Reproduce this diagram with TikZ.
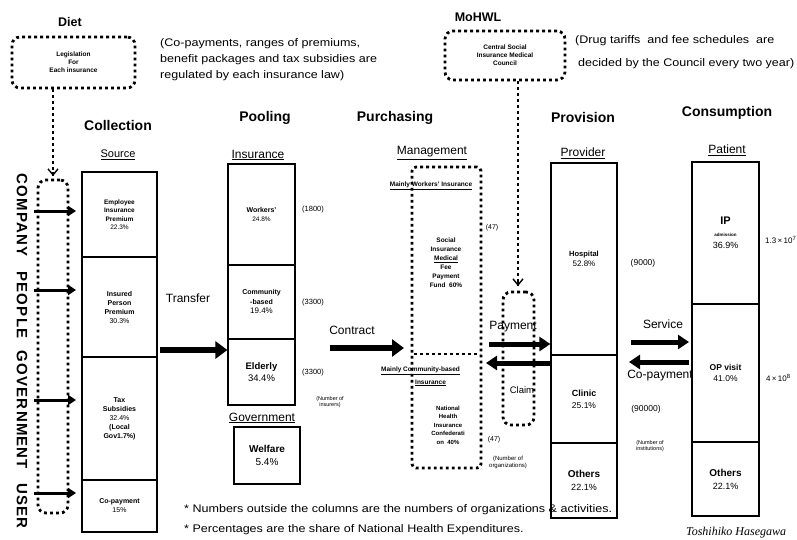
\documentclass[tikz,border=0pt]{standalone}
\usepackage{fontspec}
\setmainfont{Liberation Sans}
\newfontfamily\sigfont{Liberation Serif}
\usetikzlibrary{arrows.meta}
\newcommand\fsz[2]{\fontsize{#1}{#2}\selectfont}
\begin{document}
\begin{tikzpicture}[x=1pt,y=-1pt,
  every node/.style={inner sep=0pt},
  ttl/.style={font=\bfseries\fsz{14}{16}},
  subh/.style={font=\fsz{12}{14}},
  notel/.style={font=\fsz{11}{13}, anchor=base west, xscale=1.14},
  side/.style={font=\fsz{7.5}{9}, align=center},
  tiny/.style={font=\fsz{5.5}{6.5}, align=center},
  dotl/.style={line width=2.8pt, dash pattern=on 2.8pt off 3.2pt},
  dotbox/.style={draw, dotl, rounded corners=8pt, align=center},
  colbox/.style={draw, line width=1.2pt, align=center},
  bigarr/.style={line width=6.5pt, -{Triangle[length=12pt,width=17pt]}},
  midarr/.style={line width=5pt, -{Triangle[length=11pt,width=14pt]}},
  smallarr/.style={line width=3pt, -{Triangle[length=8pt,width=10pt]}},
  vert/.style={font=\bfseries\fsz{15}{17}\addfontfeature{LetterSpace=8}, rotate=-90},
  lbl/.style={font=\fsz{12}{14}}
]
\clip (0,0) rectangle (797,540);
\fill[white] (0,0) rectangle (797,540);

% ---- Diet
\node[ttl, font=\bfseries\fsz{12.5}{14}] (diet) at (70,22) {Diet};
\node[dotbox, minimum width=123pt, minimum height=51pt, font=\bfseries\fsz{6.5}{8}] (dietbox) at (73.5,62.5) {Legislation\\For\\Each insurance};
\coordinate (diettip) at (53,176);
\draw[dotl] (dietbox.south -| diettip) -- (diettip);
\draw[line width=1.4pt, -{Straight Barb[length=6pt,width=10pt]}] (diettip) ++(0,-4) -- (diettip);

% ---- notes at top
\node[notel] (rn1) at (160,47) {(Co-payments, ranges of premiums,};
\node[notel] (rn2) at (160,63) {benefit packages and tax subsidies are};
\node[notel] (rn3) at (160,79) {regulated by each insurance law)};
\node[notel] (dn1) at (575,44) {(Drug tariffs\ \ and fee schedules\ \ are};
\node[notel] (dn2) at (578,67) {decided by the Council every two year)};

% ---- MoHWL
\node[ttl, font=\bfseries\fsz{12.5}{14}] (mohwl) at (478,17) {MoHWL};
\node[dotbox, minimum width=120pt, minimum height=49pt, font=\bfseries\fsz{6.5}{8}] (council) at (505,55.5) {Central Social\\Insurance Medical\\Council};

% ---- column titles
\node[ttl] (tcol) at (118,125) {Collection};
\node[ttl] (tpool) at (265,118) {Pooling};
\node[ttl] (tpur) at (395,118) {Purchasing};
\node[ttl] (tprov) at (583,117) {Provision};
\node[ttl] (tcons) at (727,113) {Consumption};

\node[subh, font=\fsz{11}{13}] (hsrc) at (118,155) {\underline{Source}};
\node[subh] (hins) at (258,155) {\underline{Insurance}};
\node[subh] (hgov) at (262,418) {\underline{Government}};
\node[subh] (hman) at (432,153) {\underline{Management}};
\node[subh] (hprov) at (583,153) {\underline{Provider}};
\node[subh] (hpat) at (727,150) {\underline{Patient}};

% ---- left side
\node[vert] (vcomp) at (22,215) {COMPANY};
\node[vert] (vpeop) at (22,305) {PEOPLE};
\node[vert] (vgov) at (22,410) {GOVERNMENT};
\node[vert] (vuser) at (22,506) {USER};
\node[dotbox, minimum width=30pt, minimum height=333pt] (payers) at (53,346.5) {};

% ---- Collection column
\node[colbox, minimum width=75pt, minimum height=85pt, font=\bfseries\fsz{6.5}{8.5}] (emp) at (119.5,214.5) {Employee\\Insurance\\Premium\\\mdseries 22.3\%};
\node[colbox, minimum width=75pt, minimum height=100pt, font=\bfseries\fsz{7}{9}] (ins) at (119.5,307) {Insured\\Person\\Premium\\\mdseries 30.3\%};
\node[colbox, minimum width=75pt, minimum height=123pt, font=\bfseries\fsz{7}{9}] (tax) at (119.5,418.5) {Tax\\Subsidies\\\mdseries 32.4\%\\(Local\\Gov1.7\%)};
\node[colbox, minimum width=75pt, minimum height=52pt, font=\bfseries\fsz{7}{9}] (cop) at (119.5,506) {Co-payment\\\mdseries 15\%};

\coordinate (a1) at (34,211);
\coordinate (a2) at (34,290);
\coordinate (a3) at (34,400);
\coordinate (a4) at (34,493);
\coordinate (e1) at (76,211);
\coordinate (e2) at (76,290);
\coordinate (e3) at (76,400);
\coordinate (e4) at (76,493);
\draw[smallarr] (a1) -- (e1);
\draw[smallarr] (a2) -- (e2);
\draw[smallarr] (a3) -- (e3);
\draw[smallarr] (a4) -- (e4);

% ---- Pooling column
\node[colbox, minimum width=67pt, minimum height=101pt, font=\bfseries\fsz{7}{9}] (wrk) at (261.5,214.5) {Workers'\\\mdseries\fsz{6.5}{8}24.8\%};
\node[colbox, minimum width=67pt, minimum height=74pt, font=\bfseries\fsz{7}{9.5}] (com) at (261.5,302) {Community\\-based\\\mdseries\fsz{8}{10}19.4\%};
\node[colbox, minimum width=67pt, minimum height=66pt, font=\bfseries\fsz{9.5}{12}] (eld) at (261.5,372) {Elderly\\\mdseries 34.4\%};
\node[colbox, minimum width=66pt, minimum height=57pt, font=\bfseries\fsz{10}{13}] (wel) at (267,455.5) {Welfare\\\mdseries 5.4\%};
\node[side] (n1800) at (313,210) {(1800)};
\node[side] (n3300a) at (313,303) {(3300)};
\node[side] (n3300b) at (313,373) {(3300)};
\node[tiny] (ninsr) at (330,402) {(Number of\\insurers)};

% ---- Transfer
\node[lbl] (ltrans) at (188,298) {Transfer};
\coordinate (tr1) at (160,350);
\draw[bigarr] (tr1) -- (tr1 -| wrk.west);

% ---- Contract
\node[lbl] (lcon) at (352,330) {Contract};
\coordinate (ct1) at (330,348);
\coordinate (ct2) at (404,348);
\draw[bigarr] (ct1) -- (ct2);

% ---- Purchasing
\node[dotbox, minimum width=69pt, minimum height=301pt, rounded corners=4pt] (mgmt) at (446.5,317.5) {};
\coordinate (dvl) at (414,354);
\coordinate (dvr) at (480,354);
\draw[dotl] (dvl) -- (dvr);
\node[font=\bfseries\fsz{6.5}{8}] (mwi) at (431,186) {\underline{Mainly Workers' Insurance}};
\node[font=\bfseries\fsz{6.5}{9}, align=center] (smf) at (446,263) {Social\\Insurance\\\underline{Medical}\\Fee\\Payment\\Fund\ \ 60\%};
\node[side, font=\fsz{7}{9}] (n47a) at (492,228) {(47)};
\node[font=\bfseries\fsz{6.5}{8}, anchor=west] (mcb) at (381,371) {\underline{Mainly Community-based}};
\node[font=\bfseries\fsz{6.5}{8}, anchor=west] (mcb2) at (415,383) {\underline{Insurance}};
\node[font=\bfseries\fsz{6}{8.5}, align=center] (nhi) at (448,425) {National\\Health\\Insurance\\Confederati\\on\ \ 40\%};
\node[side, font=\fsz{7}{9}] (n47b) at (494,440) {(47)};
\node[tiny, font=\fsz{6}{7}] (norg) at (508,462) {(Number of\\organizations)};

% ---- Provider column
\node[colbox, minimum width=66pt, minimum height=192pt, font=\bfseries\fsz{7.5}{10}] (hos) at (584,259) {Hospital\\\mdseries\fsz{8}{10}52.8\%};
\node[colbox, minimum width=66pt, minimum height=88pt, font=\bfseries\fsz{9}{12}] (cli) at (584,399) {Clinic\\\mdseries\fsz{8.5}{11}25.1\%};
\node[colbox, minimum width=66pt, minimum height=75pt, font=\bfseries\fsz{10}{13}] (oth) at (584,480.5) {Others\\\mdseries\fsz{9}{12}22.1\%};
\node[side, font=\fsz{8.5}{10}] (n9000) at (643,263) {(9000)};
\node[side, font=\fsz{8.5}{10}] (n90000) at (646,409) {(90000)};
\node[tiny] (ninst) at (650,446) {(Number of\\institutions)};

% ---- Council arrow, payment/claim
\node[dotbox, minimum width=31pt, minimum height=133pt] (pcbox) at (518.5,358.5) {};
\coordinate (mohtip) at (518,286);
\draw[dotl] (council.south -| mohtip) -- (mohtip);
\draw[line width=1.4pt, -{Straight Barb[length=6pt,width=10pt]}] (mohtip) ++(0,-4) -- (mohtip);
\node[lbl] (lpay) at (513,327) {Payment};
\node[lbl, font=\fsz{9.5}{11}] (lclaim) at (522,390) {Claim};
\coordinate (pa1) at (489,344);
\coordinate (cl1) at (550,363);
\coordinate (cl2) at (486,363);
\draw[midarr] (pa1) -- (pa1 -| hos.west);
\draw[midarr] (cl1) -- (cl2);

% ---- Service / Co-payment
\node[lbl] (lserv) at (663,324) {Service};
\node[lbl] (lcopay) at (660,376) {Co-payment};
\coordinate (sv1) at (631,342);
\coordinate (sv2) at (689,342);
\coordinate (cp1) at (689,362);
\coordinate (cp2) at (629,362);
\draw[midarr] (sv1) -- (sv2);
\draw[midarr] (cp1) -- (cp2);

% ---- Patient column
\node[colbox, minimum width=67pt, minimum height=142pt, font=\bfseries\fsz{11}{12}] (ip) at (725.5,233) {IP\\\fsz{4.5}{6}admission\\\mdseries\fsz{9}{11}36.9\%};
\node[colbox, minimum width=67pt, minimum height=138pt, font=\bfseries\fsz{8.5}{11}] (op) at (725.5,373) {OP visit\\\mdseries 41.0\%};
\node[colbox, minimum width=67pt, minimum height=74pt, font=\bfseries\fsz{10}{13}] (poth) at (725.5,479) {Others\\\mdseries\fsz{9}{12}22.1\%};
\node[font=\fsz{8}{10}, anchor=west] (nip) at (765,240) {1.3\,×\,10\textsuperscript{7}};
\node[font=\fsz{8}{10}, anchor=west] (nop) at (766,378) {4\,×\,10\textsuperscript{8}};

% ---- bottom notes
\node[notel] (bn1) at (184,512) {* Numbers outside the columns are the numbers of organizations \& activities.};
\node[notel] (bn2) at (184,532) {* Percentages are the share of National Health Expenditures.};
\node[anchor=base west, font=\sigfont\itshape\fsz{12}{14}] (sig) at (686,535) {Toshihiko Hasegawa};
\end{tikzpicture}
\end{document}
